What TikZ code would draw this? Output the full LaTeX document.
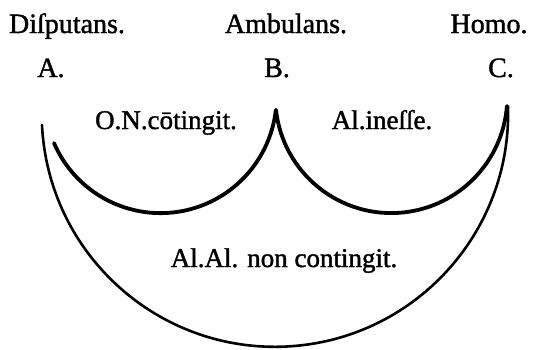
\documentclass[tikz,border=0pt]{standalone}
\usepackage{fontspec}
\setmainfont{Liberation Serif}[BoldFont=Liberation Serif,BoldFeatures={FakeBold=1.4}]
\usepackage{tikz}

\begin{document}
\begin{tikzpicture}[x=1pt,y=1pt,
 term/.style={anchor=base,inner sep=0pt,font=\fontsize{28}{32}\selectfont\bfseries},
 mood/.style={anchor=base,inner sep=0pt,font=\fontsize{27}{31}\selectfont\bfseries},
 minor/.style={line width=3.8pt,line cap=round},
 major/.style={line width=2.6pt,line cap=round}]
\useasboundingbox (0,0) rectangle (545,349);
\node[term] (dis) at (67,316) {Diſputans.};
\node[term] (amb) at (286,316) {Ambulans.};
\node[term] (hom) at (489,316) {Homo.};
\node[term] (a) at (51,272) {A.};
\node[term] (b) at (277,272) {B.};
\node[term] (c) at (501,272) {C.};
\node[mood] (ab) at (166,220) {O.N.cōtingit.};
\node[mood] (bc) at (382,220) {Al.ineſſe.};
\node[mood] (ac) at (284,82) {Al.Al. non contingit.};
% tips of the arcs under the letters
\coordinate (ta) at (54,206);
\coordinate (tb) at (276,239);
\coordinate (tc) at (508,243);
\coordinate (tA) at (42,224);
\draw[minor] (ta) arc[start angle=203.3,end angle=353.6,radius=116];
\draw[minor] (tb) arc[start angle=186.4,end angle=355.6,radius=116];
\draw[major] (tA) arc[start angle=182.8,end angle=361.8,radius=233.2];
\end{tikzpicture}
\end{document}
